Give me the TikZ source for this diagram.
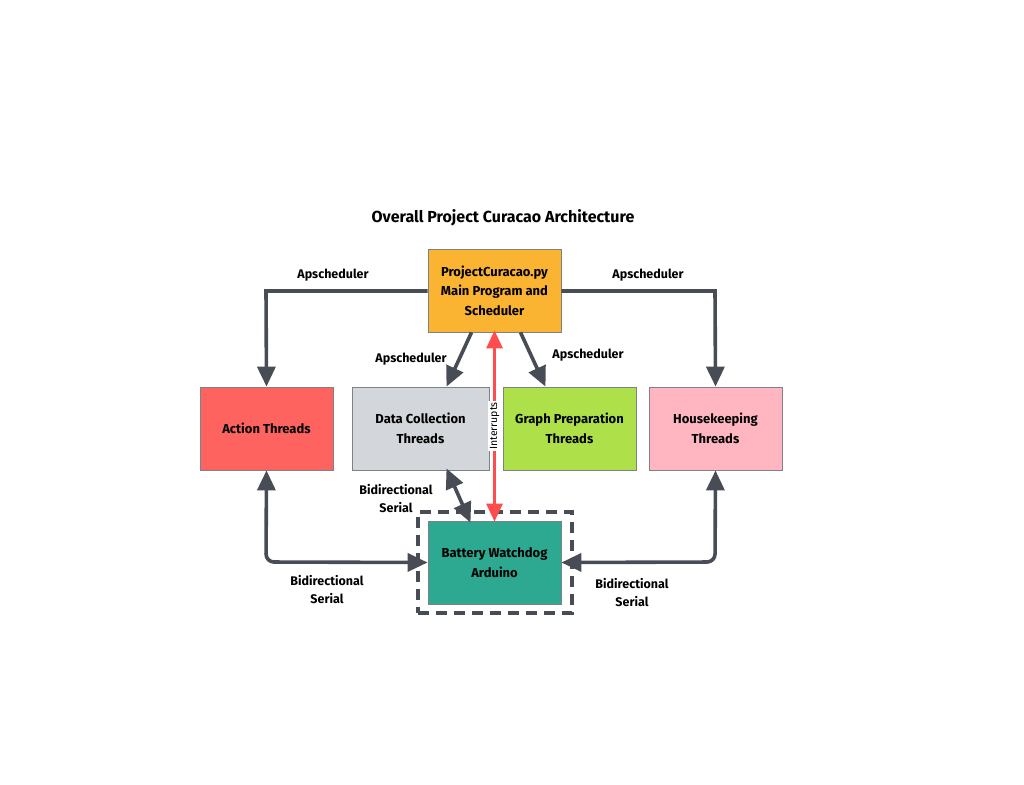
\documentclass[tikz,border=0pt]{standalone}
\usepackage{fontspec}
\setmainfont{Fira Sans}
\usetikzlibrary{arrows.meta}
\definecolor{lineg}{HTML}{474C55}
\definecolor{mainor}{HTML}{FBB431}
\definecolor{actred}{HTML}{FF6360}
\definecolor{datagr}{HTML}{D3D6DB}
\definecolor{graphg}{HTML}{AEE04A}
\definecolor{housep}{HTML}{FFB6C1}
\definecolor{battt}{HTML}{2CA990}
\definecolor{intred}{HTML}{FF4D4D}
\tikzset{
  box/.style={draw=lineg!70, line width=0.8pt, minimum width=133pt, minimum height=83pt, inner sep=0pt, align=center, font=\fontsize{13}{19.5}\selectfont\bfseries},
  conn/.style={draw=lineg, line width=3.6pt, -{Triangle[length=20pt,width=18pt]}},
  bconn/.style={draw=lineg, line width=3.6pt, {Triangle[length=20pt,width=18pt]}-{Triangle[length=20pt,width=18pt]}},
  lbl/.style={align=center, font=\fontsize{12.5}{18}\selectfont\bfseries, inner sep=1pt},
}
\begin{document}
\begin{tikzpicture}[x=1pt,y=-1pt]
\useasboundingbox (0,0) rectangle (1024,784);
\node[font=\fontsize{16}{19}\selectfont\bfseries] (title) at (503,218) {Overall Project Curacao Architecture};
\node[box, fill=mainor] (main) at (494.5,290.5) {ProjectCuracao.py\\Main Program and\\Scheduler};
\node[box, fill=actred] (act) at (266.5,428.5) {Action Threads};
\node[box, fill=datagr, minimum width=137pt] (data) at (420.5,428.5) {Data Collection\\Threads};
\node[box, fill=graphg] (graph) at (569.5,428.5) {Graph Preparation\\Threads};
\node[box, fill=housep] (house) at (715.5,428.5) {Housekeeping\\Threads};
\node[box, fill=battt] (batt) at (494.5,562.5) {Battery Watchdog\\Arduino};
\node[draw=lineg, line width=3.2pt, dash pattern=on 11pt off 7pt, minimum width=154pt, minimum height=101pt, inner sep=0pt] (wd) at (495,562.5) {};
% main to left/right
\coordinate (cl) at (266,291);
\coordinate (cr) at (715,291);
\draw[conn] (main.west |- cl) -- (cl) -- (act.north);
\draw[conn] (main.east |- cr) -- (cr) -- (house.north);
\node[lbl] (l1) at (333,275) {Apscheduler};
\node[lbl] (l2) at (648,275) {Apscheduler};
% main to data / graph
\draw[conn] ([xshift=-23pt]main.south) -- ([xshift=26pt]data.north);
\draw[conn] ([xshift=26pt]main.south) -- ([xshift=-24pt]graph.north);
\node[lbl] (l3) at (411,359) {Apscheduler};
\node[lbl] (l4) at (588,355) {Apscheduler};
% interrupts
\draw[draw=intred, line width=3pt, {Triangle[length=18pt,width=16pt]}-{Triangle[length=18pt,width=16pt]}] ([yshift=2pt]main.south) -- node[fill=white, rotate=90, font=\fontsize{10.5}{12}\selectfont, inner sep=1.5pt, text=black] (intl) {Interrupts} ([yshift=-1pt]batt.north);
% data to battery
\draw[bconn] ([xshift=26pt,yshift=2pt]data.south) -- ([xshift=-24pt,yshift=-2pt]batt.north);
\node[lbl] (l5) at (396,499) {Bidirectional\\Serial};
% action / housekeeping to battery
\coordinate (bl) at (266,562);
\coordinate (br) at (715,562);
\draw[bconn, rounded corners=8pt] (act.south) -- (bl) -- (batt.west);
\draw[bconn, rounded corners=8pt] (house.south) -- (br) -- (batt.east);
\node[lbl] (l6) at (327,590) {Bidirectional\\Serial};
\node[lbl] (l7) at (632,593) {Bidirectional\\Serial};
\end{tikzpicture}
\end{document}
